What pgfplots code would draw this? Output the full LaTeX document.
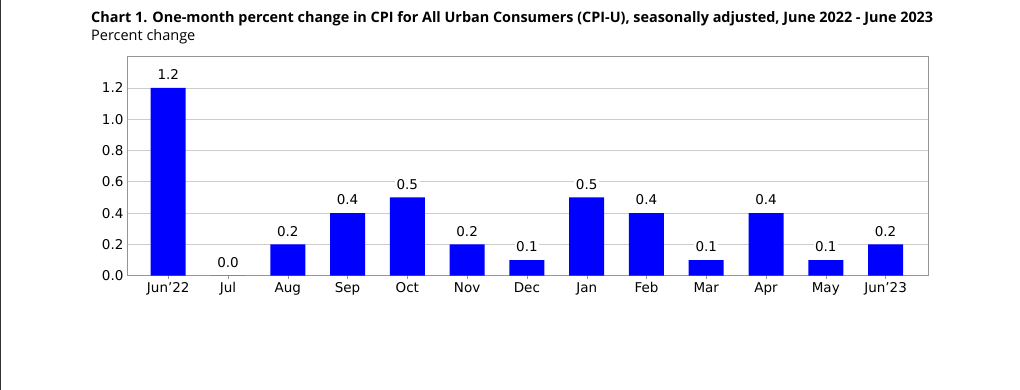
\documentclass[border=0pt]{standalone}
\usepackage{pgfplots}
\pgfplotsset{compat=1.18}
\usepackage{fontspec}
\setmainfont{DejaVu Sans}
\newfontfamily\titlefont{Open Sans}
\definecolor{barblue}{RGB}{0,0,255}
\definecolor{gridgray}{RGB}{204,204,204}
\definecolor{framegray}{RGB}{150,150,150}
\definecolor{edgegray}{RGB}{50,50,50}
\begin{document}
\begin{tikzpicture}
\path[use as bounding box] (0pt,0pt) rectangle (1020pt,390pt);
\draw[edgegray, line width=2pt] (0pt,0pt) -- (0pt,390pt);
\node[anchor=base west, inner sep=0pt, font=\titlefont\bfseries\fontsize{14.4}{17}\selectfont] at (91pt,367pt) {Chart 1. One-month percent change in CPI for All Urban Consumers (CPI-U), seasonally adjusted, June 2022 - June 2023};
\node[anchor=base west, inner sep=0pt, font=\titlefont\fontsize{14.5}{17}\selectfont] at (91pt,349pt) {Percent change};
\begin{axis}[
  at={(127pt,114.3pt)}, anchor=south west,
  width=801pt, height=219pt, scale only axis,
  ymin=0, ymax=1.4, xmin=-0.69, xmax=12.71,
  ytick={0,0.2,0.4,0.6,0.8,1.0,1.2},
  yticklabel style={/pgf/number format/fixed,/pgf/number format/precision=1,/pgf/number format/fixed zerofill},
  /pgf/number format/assume math mode=true,
  xtick=data,
  xticklabels={Jun\char"0027 22,Jul,Aug,Sep,Oct,Nov,Dec,Jan,Feb,Mar,Apr,May,Jun\char"0027 23},
  tick label style={font=\fontsize{13.5}{16}\selectfont},
  xtick pos=bottom, xtick align=outside, major tick length=3pt,
  x tick style={framegray},
  ytick style={draw=none},
  ymajorgrids, grid style={gridgray, line width=0.9pt},
  axis line style={framegray, line width=0.9pt},
  ybar, bar width=35pt,
  nodes near coords,
  nodes near coords style={font=\fontsize{13.5}{16}\selectfont, fill=white, inner sep=1.5pt, anchor=south, yshift=6.5pt,
    /pgf/number format/fixed,/pgf/number format/precision=1,/pgf/number format/fixed zerofill,
    /pgf/number format/assume math mode=true},
]
\addplot[fill=barblue, draw=none, bar shift=0pt] coordinates {
(0,1.2) (1,0.0) (2,0.2) (3,0.4) (4,0.5) (5,0.2) (6,0.1) (7,0.5) (8,0.4) (9,0.1) (10,0.4) (11,0.1) (12,0.2)};
\end{axis}
\end{tikzpicture}
\end{document}
